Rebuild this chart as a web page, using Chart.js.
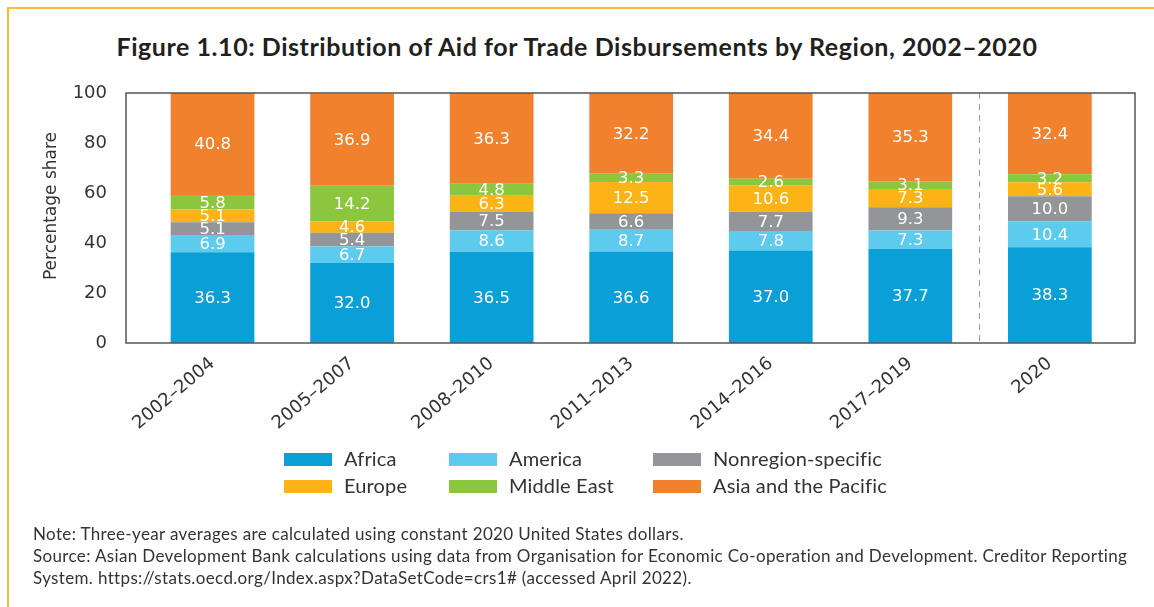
<!DOCTYPE html>
<html>
<head>
<meta charset="utf-8">
<script src="https://cdn.jsdelivr.net/npm/chart.js@4.4.1/dist/chart.umd.min.js"></script>
<style>
  html, body { margin: 0; padding: 0; background: #fff; }
  #wrap { position: relative; width: 1154px; height: 607px; overflow: hidden; background: #fff; }
  .bTop { position: absolute; left: 7px; top: 7px; width: 1147px; height: 1.5px; background: #fbbb35; }
  .bLeft { position: absolute; left: 7px; top: 7px; width: 1.5px; height: 600px; background: #fbbb35; }
  #title { position: absolute; left: 0; width: 1154px; top: 29px; text-align: center;
           font-family: Lato, sans-serif; font-weight: bold; font-size: 25px; letter-spacing: 0.55px; color: #231f20; line-height: 34px; }
  #chartBox { position: absolute; left: 0; top: 0; width: 1154px; height: 607px; }
  .lg { position: absolute; font-family: Lato, sans-serif; font-size: 20px; letter-spacing: 0.15px; color: #333; line-height: 24px; white-space: nowrap; }
  .sw { position: absolute; width: 48px; height: 13px; }
  #notes { position: absolute; left: 33px; top: 523px; font-family: Lato, sans-serif; font-size: 17px; letter-spacing: 0.35px;
           color: #333; line-height: 22px; white-space: nowrap; }
</style>
</head>
<body>
<div id="wrap">
  <div class="bTop"></div>
  <div class="bLeft"></div>
  <div id="title">Figure 1.10: Distribution of Aid for Trade Disbursements by Region, 2002–2020</div>
  <div id="chartBox"><canvas id="c"></canvas></div>
  <div id="legend"></div>
  <div id="notes">Note: Three-year averages are calculated using constant 2020 United States dollars.<br>Source: Asian Development Bank calculations using data from Organisation for Economic Co-operation and Development. Creditor Reporting<br>System. https://stats.oecd.org/Index.aspx?DataSetCode=crs1# (accessed April 2022).</div>
</div>
<script>
// ---- data ----
const categories = ["2002–2004", "2005–2007", "2008–2010", "2011–2013", "2014–2016", "2017–2019", "2020"];
const africa      = [36.3, 32.0, 36.5, 36.6, 37.0, 37.7, 38.3];
const america     = [6.9, 6.7, 8.6, 8.7, 7.8, 7.3, 10.4];
const nonregion   = [5.1, 5.4, 7.5, 6.6, 7.7, 9.3, 10.0];
const europe      = [5.1, 4.6, 6.3, 12.5, 10.6, 7.3, 5.6];
const middleEast  = [5.8, 14.2, 4.8, 3.3, 2.6, 3.1, 3.2];
const asiaPacific = [40.8, 36.9, 36.3, 32.2, 34.4, 35.3, 32.4];
const seriesNames = ["Africa", "America", "Nonregion-specific", "Europe", "Middle East", "Asia and the Pacific"];
const yTicks = [0, 20, 40, 60, 80, 100];
const yTitle = "Percentage share";

// ---- styles ----
const colors = ["#0a9fd6", "#5ccbee", "#939598", "#fbb316", "#8cc63f", "#f2812e"];
const seriesValues = [africa, america, nonregion, europe, middleEast, asiaPacific];
const NUM_FONT = "'DejaVu Sans', sans-serif";

const datasets = seriesValues.map((vals, k) => ({
  label: seriesNames[k],
  data: vals.map((v, i) => ({ x: i, y: v })),
  backgroundColor: colors[k],
  borderWidth: 0,
  barPercentage: 0.6,
  categoryPercentage: 1.0
}));

const valueLabels = {
  id: 'valueLabels',
  afterDatasetsDraw(chart) {
    const ctx = chart.ctx;
    ctx.save();
    ctx.fillStyle = '#ffffff';
    ctx.font = "16.5px " + NUM_FONT;
    ctx.textAlign = 'center';
    ctx.textBaseline = 'middle';
    chart.data.datasets.forEach((ds, di) => {
      const meta = chart.getDatasetMeta(di);
      meta.data.forEach((el, i) => {
        const p = el.getProps(['x', 'y', 'base'], true);
        ctx.fillText(seriesValues[di][i].toFixed(1), p.x, (p.y + p.base) / 2 + 1);
      });
    });
    ctx.restore();
  }
};

const frameAndExtras = {
  id: 'frameAndExtras',
  afterDatasetsDraw(chart) {
    const {ctx, chartArea: a, scales} = chart;
    ctx.save();
    // dashed separator before 2020
    const sx = scales.x.getPixelForValue(5.49);
    ctx.strokeStyle = '#9a9a9a';
    ctx.lineWidth = 1;
    ctx.setLineDash([6, 5]);
    ctx.beginPath();
    ctx.moveTo(Math.round(sx) + 0.5, a.top);
    ctx.lineTo(Math.round(sx) + 0.5, a.bottom);
    ctx.stroke();
    ctx.setLineDash([]);
    // plot frame
    ctx.strokeStyle = '#555555';
    ctx.lineWidth = 1.5;
    ctx.strokeRect(a.left, a.top, a.right - a.left, a.bottom - a.top);
    // y axis title
    ctx.fillStyle = '#333';
    ctx.font = "17px " + NUM_FONT;
    ctx.textAlign = 'center';
    ctx.textBaseline = 'middle';
    ctx.translate(52, 206);
    ctx.rotate(-Math.PI / 2);
    ctx.fillText(yTitle, 0, 0);
    ctx.restore();
  }
};

new Chart(document.getElementById('c'), {
  type: 'bar',
  data: { datasets },
  options: {
    responsive: true,
    maintainAspectRatio: false,
    animation: false,
    devicePixelRatio: 1,
    layout: { padding: { left: 26, top: 93, right: 19, bottom: 164 } },
    plugins: { legend: { display: false }, tooltip: { enabled: false } },
    scales: {
      x: {
        type: 'linear',
        stacked: true,
        offset: false,
        min: -0.62,
        max: 6.61,
        grid: { display: false, drawTicks: false, offset: false },
        border: { display: false },
        afterFit(s) { s.height = 100; },
        afterBuildTicks(s) { s.ticks = categories.map((_, i) => ({ value: i })); },
        ticks: {
          autoSkip: false,
          minRotation: 40,
          maxRotation: 40,
          padding: 10,
          color: '#333',
          font: { family: NUM_FONT, size: 18 },
          callback: (v) => categories[v] ?? ''
        }
      },
      y: {
        stacked: true,
        min: 0,
        max: 100,
        grid: { display: false, drawTicks: false },
        border: { display: false },
        afterFit(s) { s.width = 100; },
        afterBuildTicks(s) { s.ticks = yTicks.map(v => ({ value: v })); },
        ticks: {
          padding: 19,
          color: '#333',
          font: { family: NUM_FONT, size: 18 }
        }
      }
    }
  },
  plugins: [valueLabels, frameAndExtras]
});

// ---- HTML legend (3 columns x 2 rows) ----
const legendCols = [284, 449, 653];
const legendRows = [459, 486];
const legendEl = document.getElementById('legend');
seriesNames.forEach((name, k) => {
  const col = k % 3, row = Math.floor(k / 3);
  const sw = document.createElement('div');
  sw.className = 'sw';
  sw.style.left = legendCols[col] + 'px';
  sw.style.top = (legendRows[row] - 6.5) + 'px';
  sw.style.background = colors[k];
  legendEl.appendChild(sw);
  const t = document.createElement('div');
  t.className = 'lg';
  t.textContent = name;
  t.style.left = (legendCols[col] + 60) + 'px';
  t.style.top = (legendRows[row] - 13) + 'px';
  legendEl.appendChild(t);
});
</script>
</body>
</html>
